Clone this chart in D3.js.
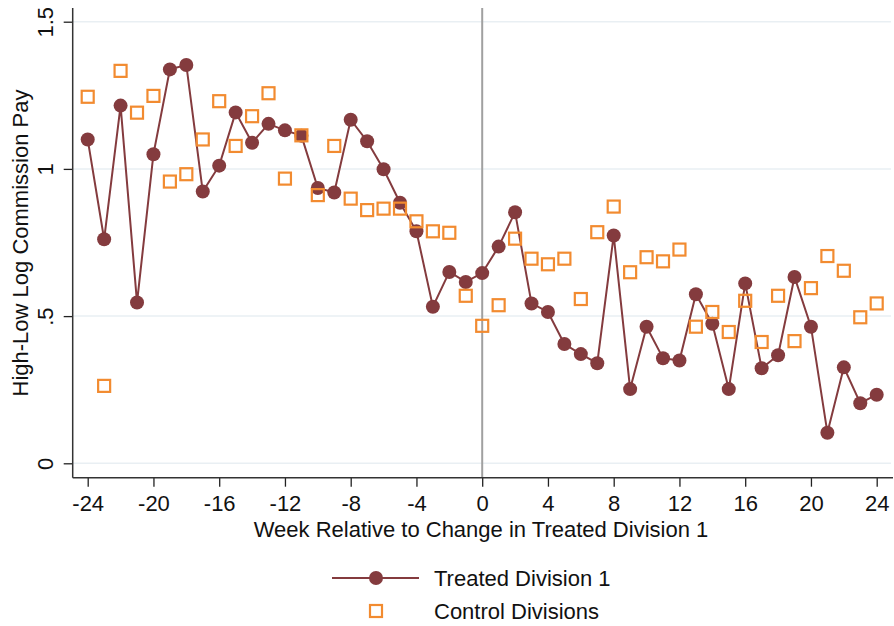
<!DOCTYPE html>
<html><head><meta charset="utf-8">
<script src="https://cdn.jsdelivr.net/npm/d3@7"></script>
<style>body{margin:0;background:#fff}svg{display:block}text{font-family:"Liberation Sans",Arial,Helvetica,sans-serif;fill:#111}</style>
</head><body>
<svg id="c" width="894" height="626"></svg>
<script>
const weeks = d3.range(-24, 25);
const treated = [1.100,0.761,1.215,0.546,1.050,1.338,1.353,0.923,1.011,1.192,1.089,1.153,1.131,1.113,0.935,0.920,1.167,1.094,0.999,0.885,0.788,0.532,0.650,0.616,0.646,0.736,0.853,0.543,0.514,0.405,0.371,0.340,0.774,0.252,0.464,0.357,0.349,0.574,0.474,0.252,0.611,0.323,0.367,0.633,0.464,0.104,0.326,0.204,0.233];
const control = [1.245,0.263,1.333,1.191,1.248,0.957,0.982,1.100,1.230,1.078,1.179,1.257,0.967,1.114,0.911,1.078,0.899,0.860,0.865,0.865,0.822,0.788,0.783,0.569,0.467,0.537,0.763,0.695,0.676,0.695,0.558,0.785,0.872,0.649,0.700,0.686,0.726,0.464,0.514,0.446,0.552,0.412,0.569,0.415,0.595,0.704,0.654,0.496,0.543];
const xTicks = [-24,-20,-16,-12,-8,-4,0,4,8,12,16,20,24];
const yTicks = [0,0.5,1,1.5];
const yTickLabels = ["0",".5","1","1.5"];
const seriesNames = ["Treated Division 1","Control Divisions"];

(function(){
const maroon = "#843B3E", orange = "#F28B30";
const svg = d3.select("#c");
const x = d3.scaleLinear().domain([-24,24]).range([87.7,876.7]);
const y = d3.scaleLinear().domain([0,1.5]).range([463.3,21.7]);
const pLeft = 72.7, pBottom = 477.7, pTop = 8, pRight = 891;

// gridlines
svg.append("g").selectAll("line").data(yTicks).join("line")
  .attr("x1", pLeft).attr("x2", pRight).attr("y1", d=>y(d)).attr("y2", d=>y(d))
  .attr("stroke", "#e9eff3").attr("stroke-width", 1.5);

// vertical reference line at 0
svg.append("line").attr("x1", x(0)).attr("x2", x(0)).attr("y1", pTop).attr("y2", pBottom)
  .attr("stroke", "#a0a0a0").attr("stroke-width", 2);

// y axis
const yAxis = svg.append("g").attr("transform", `translate(${pLeft},0)`)
  .call(d3.axisLeft(y).tickValues(yTicks).tickFormat((d,i)=>yTickLabels[i]).tickSize(9).tickPadding(0));
yAxis.select(".domain").remove();
yAxis.selectAll(".tick line").attr("stroke", "#222").attr("stroke-width", 1.3);
yAxis.selectAll(".tick text").attr("transform", "rotate(-90)").attr("x", 0).attr("y", -20)
  .attr("dy", 0).attr("text-anchor", "middle").style("font-size", "22px").attr("fill", "#111");
svg.append("line").attr("x1", pLeft).attr("x2", pLeft).attr("y1", pTop).attr("y2", pBottom)
  .attr("stroke", "#333").attr("stroke-width", 1.5);

// x axis
const xAxis = svg.append("g").attr("transform", `translate(0,${pBottom})`)
  .call(d3.axisBottom(x).tickValues(xTicks).tickFormat(d3.format("d")).tickSize(9).tickPadding(0));
xAxis.select(".domain").remove();
xAxis.selectAll(".tick line").attr("stroke", "#222").attr("stroke-width", 1.3);
xAxis.selectAll(".tick text").attr("y", 33).attr("dy", 0).style("font-size", "22px").attr("fill", "#111")
  .text(d => d < 0 ? "-" + Math.abs(d) : d);
svg.append("line").attr("x1", pLeft).attr("x2", 893).attr("y1", pBottom).attr("y2", pBottom)
  .attr("stroke", "#333").attr("stroke-width", 1.5);

// axis titles
svg.append("text").attr("x", 481).attr("y", 537).attr("text-anchor", "middle")
  .style("font-size", "22px").text("Week Relative to Change in Treated Division 1");
svg.append("text").attr("transform", "translate(28,243) rotate(-90)").attr("text-anchor", "middle")
  .style("font-size", "22px").text("High-Low Log Commission Pay");

const sq = 12;

// treated line + circles
const line = d3.line().x(d=>x(d[0])).y(d=>y(d[1]));
const tData = weeks.map((w,i)=>[w,treated[i]]);
svg.append("path").datum(tData).attr("d", line).attr("fill", "none")
  .attr("stroke", maroon).attr("stroke-width", 2);
svg.append("g").selectAll("circle").data(tData).join("circle")
  .attr("cx", d=>x(d[0])).attr("cy", d=>y(d[1])).attr("r", 7).attr("fill", maroon);

// control squares (drawn on top)
svg.append("g").selectAll("rect").data(weeks.map((w,i)=>[w,control[i]])).join("rect")
  .attr("x", d=>x(d[0])-sq/2).attr("y", d=>y(d[1])-sq/2).attr("width", sq).attr("height", sq)
  .attr("fill", "none").attr("stroke", orange).attr("stroke-width", 2.2);

// legend
const lg = svg.append("g");
lg.append("line").attr("x1", 332).attr("x2", 419).attr("y1", 578).attr("y2", 578)
  .attr("stroke", maroon).attr("stroke-width", 2);
lg.append("circle").attr("cx", 376).attr("cy", 578).attr("r", 7).attr("fill", maroon);
lg.append("rect").attr("x", 376-sq/2).attr("y", 611-sq/2).attr("width", sq).attr("height", sq)
  .attr("fill", "none").attr("stroke", orange).attr("stroke-width", 2.2);
lg.append("text").attr("x", 434).attr("y", 586).style("font-size", "22px").text(seriesNames[0]);
lg.append("text").attr("x", 434).attr("y", 619).style("font-size", "22px").text(seriesNames[1]);
})();
</script>
</body></html>
